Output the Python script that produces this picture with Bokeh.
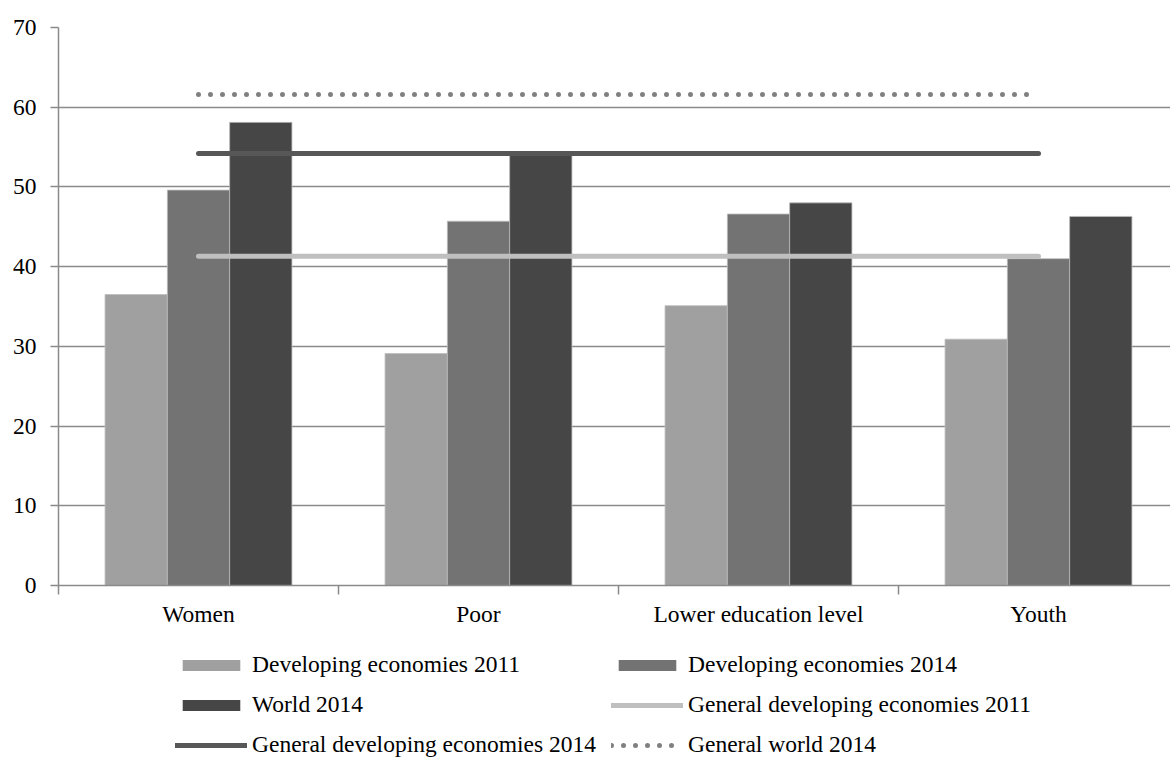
from bokeh.plotting import figure
from bokeh.layouts import column
from bokeh.models import Range1d, FixedTicker, Legend, LegendItem, ColumnDataSource
from bokeh.embed import file_html
from bokeh.resources import INLINE

categories = ["Women", "Poor", "Lower education level", "Youth"]
dev_2011 = [36.5, 29.1, 35.1, 30.9]
dev_2014 = [49.6, 45.7, 46.6, 41.0]
world_2014 = [58.1, 54.0, 48.0, 46.3]
general_dev_2011 = 41.3
general_dev_2014 = 54.2
general_world_2014 = 61.6
y_ticks = [0, 10, 20, 30, 40, 50, 60, 70]

FONT = "Liberation Serif"
FS = "23.5px"
GRID = "#8a8a8a"

n = len(categories)
centers = [i + 0.5 for i in range(n)]
bw = 0.2225

bar_styles = [("Developing economies 2011", "#a0a0a0", -bw, dev_2011),
              ("Developing economies 2014", "#737373", 0.0, dev_2014),
              ("World 2014", "#464646", bw, world_2014)]
line_styles = [("General developing economies 2011", "#bfbfbf", "solid", general_dev_2011),
               ("General developing economies 2014", "#575757", "solid", general_dev_2014),
               ("General world 2014", "#808080", "0 12", general_world_2014)]

p = figure(width=1170, height=640, output_backend="svg", toolbar_location=None,
           x_range=Range1d(0, 1112 / 280), y_range=Range1d(0, 70),
           min_border_left=58, min_border_right=0, min_border_top=27, min_border_bottom=55)
p.outline_line_color = None
p.background_fill_color = "white"
p.border_fill_color = "white"

# legend panel (own figure below the chart; its view window lies above the data,
# so only the legend entries are visible there)
lg = figure(width=1170, height=120, output_backend="svg", toolbar_location=None,
            x_range=Range1d(0, 1112 / 280), y_range=Range1d(100, 101),
            x_axis_location=None, y_axis_location=None,
            min_border_left=0, min_border_right=0, min_border_top=0, min_border_bottom=0)
lg.outline_line_color = None
lg.grid.visible = False
lg.border_fill_color = "white"
lg.background_fill_color = "white"

leg_r = {}
for name, col, off, vals in bar_styles:
    src = ColumnDataSource(dict(x=[c + off for c in centers], top=vals))
    p.vbar(x="x", top="top", width=bw, bottom=0, source=src, fill_color=col,
           line_color="#bdbdbd", line_width=0.8)
    leg_r[name] = lg.vbar(x="x", top="top", width=bw, bottom=0, source=src,
                          fill_color=col, line_color=None)

line_x = [centers[0], centers[-1]]
for name, col, dash, val in line_styles:
    p.line(line_x, [val] * 2, line_color=col, line_width=5, line_cap="round", line_dash=dash)
    leg_r[name] = lg.line(line_x, [val] * 2, line_color=col, line_width=5,
                          line_cap="round", line_dash=dash)

# axes
p.xaxis.ticker = FixedTicker(ticks=centers, minor_ticks=list(range(n + 1)))
p.xaxis.major_label_overrides = {c: lab for c, lab in zip(centers, categories)}
p.xaxis.major_tick_out = 0
p.xaxis.major_tick_in = 0
p.xaxis.minor_tick_out = 9
p.xaxis.minor_tick_in = 0
p.xaxis.minor_tick_line_color = GRID
p.xaxis.minor_tick_line_width = 1.5
p.xaxis.axis_line_color = GRID
p.xaxis.axis_line_width = 1.5
p.xaxis.major_label_text_font = FONT
p.xaxis.major_label_text_font_size = FS
p.xaxis.major_label_text_color = "black"
p.xaxis.major_label_standoff = 6

p.yaxis.ticker = FixedTicker(ticks=y_ticks)
p.yaxis.major_tick_out = 8
p.yaxis.major_tick_in = 0
p.yaxis.minor_tick_line_color = None
p.yaxis.major_tick_line_color = GRID
p.yaxis.major_tick_line_width = 1.5
p.yaxis.axis_line_color = GRID
p.yaxis.axis_line_width = 1.5
p.yaxis.major_label_text_font = FONT
p.yaxis.major_label_text_font_size = FS
p.yaxis.major_label_text_color = "black"
p.yaxis.major_label_standoff = 14

p.xgrid.visible = False
p.ygrid.grid_line_color = GRID
p.ygrid.grid_line_width = 1.5

order = ["Developing economies 2011", "Developing economies 2014", "World 2014",
         "General developing economies 2011", "General developing economies 2014", "General world 2014"]
items = [LegendItem(label=k, renderers=[leg_r[k]]) for k in order]
legend = Legend(items=items, location=(117, 2), orientation="horizontal", ncols=2,
                padding=0, margin=0, spacing=13, glyph_width=72, glyph_height=14,
                label_height=27, label_width=346, label_standoff=5,
                label_text_font=FONT, label_text_font_size=FS, label_text_color="black",
                border_line_color=None, background_fill_alpha=0)
lg.add_layout(legend, "center")

layout = column(p, lg, spacing=0)
open("out.html", "w").write(file_html(layout, INLINE))
